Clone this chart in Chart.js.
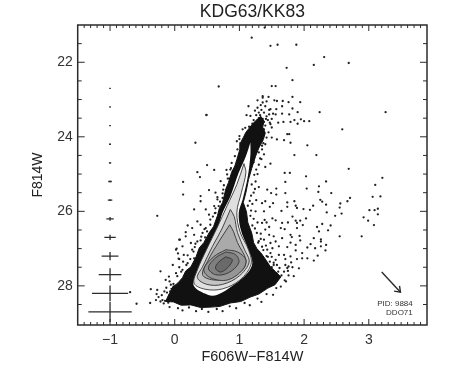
<!DOCTYPE html>
<html>
<head>
<meta charset="utf-8">
<title>KDG63/KK83</title>
<script src="https://cdn.jsdelivr.net/npm/chart.js@4"></script>
<style>
  html, body { margin: 0; padding: 0; background: #fff; }
  canvas { display: block; filter: blur(0.45px); }
</style>
</head>
<body>
<canvas id="cmd" width="450" height="375"></canvas>
<script>
// Axis ticks
const xMajor = [-1, 0, 1, 2, 3];
const yMajor = [22, 24, 26, 28];
const xMinor = [-1.4,-1.3,-1.2,-1.1,-0.9,-0.8,-0.7,-0.6,-0.5,-0.4,-0.3,-0.2,-0.1,0.1,0.2,0.3,0.4,0.5,0.6,0.7,0.8,0.9,1.1,1.2,1.3,1.4,1.5,1.6,1.7,1.8,1.9,2.1,2.2,2.3,2.4,2.5,2.6,2.7,2.8,2.9,3.1,3.2,3.3,3.4,3.5,3.6,3.7,3.8];
const yMinor = [21.5, 22.5, 23, 23.5, 24.5, 25, 25.5, 26.5, 27, 27.5, 28.5];

// Error bars at colour -1
const errMag = [22.7, 23.2, 23.7, 24.2, 24.7, 25.2, 25.7, 26.2, 26.7, 27.2, 27.7, 28.2, 28.7];
const errColour = [0.01, 0.01, 0.012, 0.015, 0.018, 0.028, 0.035, 0.057, 0.088, 0.13, 0.175, 0.28, 0.335];
const errMagSize = [0.01, 0.01, 0.012, 0.015, 0.018, 0.02, 0.025, 0.05, 0.07, 0.11, 0.17, 0.21, 0.27];

// Saturated black part of the diagram
const blackRegion = [[1.33,23.45],[1.22,23.62],[1.10,23.88],[1.06,24.02],[1.02,24.15],[1.01,24.32],[0.96,24.61],[0.93,24.78],[0.88,24.95],[0.83,25.23],[0.79,25.40],[0.74,25.76],[0.69,25.92],[0.66,26.12],[0.60,26.41],[0.53,26.58],[0.45,26.84],[0.38,26.98],[0.33,27.22],[0.25,27.49],[0.17,27.60],[0.12,27.78],[0.05,27.92],[-0.03,28.03],[-0.11,28.30],[-0.14,28.42],[-0.02,28.43],[0.10,28.52],[0.25,28.51],[0.40,28.58],[0.56,28.57],[0.70,28.55],[0.86,28.46],[1.02,28.42],[1.17,28.30],[1.30,28.22],[1.44,28.06],[1.55,27.97],[1.64,27.76],[1.56,27.62],[1.48,27.49],[1.40,27.28],[1.33,27.11],[1.27,27.00],[1.22,26.84],[1.19,26.58],[1.13,26.30],[1.11,26.02],[1.06,25.76],[1.10,25.50],[1.14,25.15],[1.19,24.85],[1.25,24.52],[1.30,24.30],[1.37,24.07],[1.40,23.90],[1.36,23.74],[1.38,23.58],[1.33,23.45]];

// Density contours, outermost first
const contourWhite = [[1.17,24.15],[1.10,24.52],[0.99,24.96],[0.86,25.60],[0.74,26.03],[0.66,26.49],[0.56,26.95],[0.40,27.57],[0.29,27.98],[0.51,28.24],[0.66,28.24],[0.91,27.98],[1.13,27.65],[1.20,27.38],[1.14,27.03],[1.02,26.49],[0.99,26.03],[1.05,25.68],[1.13,25.06],[1.17,24.48],[1.17,24.15]];
const contour1 = [[1.07,24.72],[0.96,25.28],[0.81,25.85],[0.66,26.42],[0.49,27.03],[0.35,27.57],[0.30,27.93],[0.47,28.09],[0.74,28.08],[1.01,27.84],[1.18,27.42],[1.14,27.03],[1.01,26.55],[0.96,26.03],[1.03,25.50],[1.10,24.96],[1.07,24.72]];
const contour2 = [[0.86,25.95],[0.73,26.47],[0.58,26.95],[0.43,27.49],[0.35,27.78],[0.50,27.96],[0.74,27.96],[1.00,27.73],[1.15,27.36],[1.08,27.03],[0.97,26.57],[0.92,26.14],[0.86,25.95]];
const contour3 = [[0.85,26.36],[0.68,26.82],[0.52,27.30],[0.43,27.70],[0.59,27.84],[0.82,27.79],[1.05,27.57],[1.10,27.30],[0.97,26.84],[0.91,26.55],[0.85,26.36]];
const contour4 = [[0.79,27.03],[0.60,27.22],[0.45,27.57],[0.56,27.79],[0.82,27.84],[1.05,27.57],[1.10,27.30],[0.97,27.09],[0.79,27.03]];
const contour5 = [[0.79,27.09],[0.63,27.25],[0.52,27.52],[0.63,27.70],[0.83,27.65],[0.99,27.38],[0.94,27.16],[0.79,27.09]];
const contour6 = [[0.79,27.22],[0.68,27.36],[0.63,27.52],[0.71,27.63],[0.83,27.49],[0.89,27.30],[0.79,27.22]];
const contourFills = ["#ffffff", "#e0e0e0", "#c4c4c4", "#aaaaaa", "#969696", "#808080", "#6a6a6a"];

// Individual stars
const starsTop = [[1.19,21.34],[1.48,21.56],[1.59,21.53],[1.88,21.53],[2.31,21.86],[2.15,22.07],[2.69,22.02],[1.73,22.15],[1.82,22.48],[1.50,22.64],[1.56,22.64],[0.68,22.65],[0.49,23.42],[1.39,21.07],[3.26,23.34],[2.24,23.34],[1.36,22.91],[1.36,22.95],[1.45,22.93],[1.82,22.93],[1.94,23.07],[1.28,23.02],[1.54,23.02],[1.58,23.04],[1.67,23.04],[1.76,23.07],[1.14,23.18],[1.33,23.15],[1.40,23.18],[1.66,23.18],[1.48,23.26],[1.57,23.26],[1.82,23.24],[1.90,23.34],[1.11,23.42],[1.17,23.44],[1.32,23.42],[1.46,23.40],[1.56,23.40],[1.66,23.38],[1.77,23.40],[1.85,23.55],[1.95,23.53],[2.08,23.58],[2.00,23.58],[1.28,23.55],[1.38,23.60],[1.48,23.66],[1.60,23.62],[1.68,23.60],[1.90,23.65],[1.79,23.60],[1.05,23.80],[1.15,23.73],[1.38,23.80],[1.50,23.75],[1.74,23.93],[1.77,23.93],[1.50,24.02],[2.59,23.80],[1.00,23.98],[1.28,23.60],[1.30,23.50],[1.32,23.60],[1.25,23.70],[1.22,23.80],[1.30,23.72],[1.34,23.78],[1.20,23.65],[1.36,23.52],[1.40,23.70],[1.20,23.90],[1.16,23.95],[1.22,23.55],[1.26,23.42],[1.30,23.35],[1.24,23.30],[1.34,23.28],[1.28,23.22],[1.42,23.45],[1.38,23.35],[1.44,23.55],[1.50,23.52],[1.52,23.38],[1.46,23.28],[1.36,23.08],[1.42,23.05]];
const starsRight = [[2.05,24.23],[1.85,24.49],[2.19,24.49],[1.48,24.72],[1.40,24.81],[1.70,24.97],[1.78,24.97],[2.69,24.86],[2.03,25.06],[1.71,25.21],[2.34,25.20],[2.23,25.33],[2.04,25.39],[3.21,25.10],[3.10,25.29],[1.57,25.39],[1.43,25.42],[1.49,25.51],[1.57,25.55],[1.71,25.51],[2.22,25.48],[2.42,25.51],[3.18,25.60],[3.06,25.61],[2.71,25.64],[2.67,25.73],[2.25,25.69],[2.28,25.74],[2.34,25.82],[2.56,25.79],[2.55,25.90],[1.74,25.76],[1.85,25.73],[1.87,25.85],[1.89,25.91],[1.52,25.78],[1.40,25.73],[1.35,25.78],[1.47,25.88],[1.74,25.88],[1.99,25.94],[2.09,25.96],[2.14,25.85],[1.65,25.99],[1.38,26.00],[2.35,26.03],[2.48,26.12],[2.58,26.06],[3.01,25.97],[3.09,25.97],[3.14,25.93],[3.14,26.08],[2.92,26.16],[2.99,26.25],[3.08,26.37],[1.51,26.19],[1.39,26.23],[1.42,26.30],[1.56,26.24],[1.82,26.14],[1.87,26.25],[1.94,26.25],[2.03,26.19],[1.89,26.31],[1.98,26.37],[1.66,26.31],[1.75,26.30],[1.64,26.45],[1.70,26.48],[1.89,26.45],[2.28,26.34],[2.20,26.42],[2.41,26.38],[2.37,26.51],[2.23,26.54],[2.55,26.67],[2.89,26.67],[1.79,26.63],[1.81,26.69],[1.93,26.66],[2.15,26.72],[2.26,26.75],[2.26,26.81],[2.34,26.90],[2.10,26.88],[2.05,26.97],[2.17,26.99],[2.26,26.94],[2.33,27.05],[1.94,26.78],[1.87,26.90],[1.79,26.84],[1.74,26.96],[1.66,26.72],[1.53,26.67],[1.46,26.63],[1.56,26.81],[1.48,26.85],[1.61,26.94],[1.51,26.99],[1.87,27.05],[1.69,27.17],[2.21,27.19],[1.97,27.12],[2.05,27.26],[2.15,27.32],[1.97,27.26],[1.89,27.28],[1.79,27.21],[1.71,27.28],[1.61,27.17],[1.80,27.37],[1.71,27.44],[1.92,27.53],[1.76,27.48],[1.48,27.12],[1.56,27.30],[1.43,27.03],[1.38,26.76],[1.40,26.49],[1.46,26.42],[1.35,26.31],[1.53,27.44],[1.35,24.10],[1.37,24.17],[1.40,24.20],[1.35,24.34],[1.38,24.47],[1.58,24.07],[1.69,24.09],[1.79,24.16],[1.34,24.60],[1.30,24.75],[1.28,25.00],[1.25,25.20],[1.30,25.35],[1.22,25.50],[1.26,25.70],[1.20,25.80],[1.25,26.00],[1.22,26.20],[1.28,26.30],[1.33,26.60],[1.30,26.80],[1.35,26.95],[1.42,27.20],[1.47,27.35],[1.50,27.50],[1.60,27.62],[1.65,27.72],[1.70,27.85],[1.75,27.60],[1.82,27.50]];
const starsLeft = [[0.49,23.41],[0.32,24.16],[0.50,24.76],[0.61,24.89],[0.35,24.95],[0.39,25.08],[0.13,25.21],[0.13,25.55],[0.53,25.43],[0.71,25.19],[0.80,24.89],[0.86,24.88],[0.81,25.01],[0.63,25.50],[0.74,25.64],[0.66,25.68],[0.40,25.59],[0.40,25.73],[0.48,25.95],[0.30,25.95],[0.61,25.86],[0.53,26.09],[0.68,25.86],[0.63,26.04],[-0.27,26.12],[0.35,26.27],[0.20,26.38],[0.17,26.56],[0.27,26.45],[0.40,26.36],[0.48,26.45],[0.07,26.76],[0.17,26.67],[0.30,26.63],[0.43,26.58],[0.50,26.54],[0.02,27.03],[0.12,26.94],[0.25,26.85],[0.35,26.81],[0.14,27.17],[0.07,27.28],[0.27,27.03],[0.20,27.39],[-0.22,27.61],[-0.09,27.75],[0.02,27.66],[0.12,27.57],[0.30,27.26],[0.40,26.99],[-0.06,27.97],[-0.27,28.11],[-0.16,28.15],[0.04,28.02],[-0.29,28.38],[-0.19,28.38],[0.14,27.84],[0.22,27.75],[0.35,27.48],[-0.59,28.48],[-0.69,28.17],[-0.37,28.09],[-0.38,28.46],[0.03,27.00],[-0.03,27.44],[-0.14,27.84],[0.06,27.27],[0.05,27.13],[0.08,26.76]];
const starsEdge = [[-0.20,28.25],[-0.25,28.30],[-0.15,28.40],[-0.10,28.45],[-0.22,28.42],[-0.28,28.22],[-0.12,28.18],[-0.05,28.08],[-0.02,28.02],[-0.08,28.25],[-0.17,28.47],[-0.08,28.57],[0.05,28.60],[0.12,28.66],[0.22,28.58],[0.33,28.68],[0.42,28.62],[0.52,28.70],[0.65,28.62],[0.74,28.68],[0.85,28.55],[0.95,28.60],[1.08,28.46],[1.16,28.52],[1.28,28.34],[1.34,28.43],[1.42,28.22],[1.52,28.24],[1.57,28.06],[1.64,28.02],[1.72,27.88],[1.76,27.72],[0.88,24.70],[0.90,24.92],[0.84,25.12],[0.76,25.30],[0.74,25.52],[0.66,25.62],[0.63,25.92],[0.59,26.14],[0.55,26.22],[0.46,26.48],[0.41,26.68],[0.32,26.87],[0.29,27.08],[0.20,27.18],[0.18,27.44],[0.07,27.50],[0.04,27.74],[-0.08,27.88],[1.22,24.68],[1.23,25.02],[1.19,25.28],[1.18,25.58],[1.13,25.85],[1.17,26.12],[1.20,26.38],[1.27,26.58],[1.29,26.84],[1.37,27.04],[1.44,27.22],[1.53,27.38],[1.62,27.52],[1.69,27.62],[0.10,27.62],[-0.02,27.95],[0.13,27.35],[0.24,27.28],[0.31,26.96],[0.40,26.78],[0.47,26.70],[0.55,26.36],[0.62,26.05],[0.70,25.74],[0.75,25.42],[0.82,25.12],[0.87,24.84],[0.93,24.52],[0.97,24.34],[0.96,24.12],[1.00,24.06],[1.09,23.76],[0.21,27.68],[0.11,27.86],[-0.13,28.05],[-0.07,28.15],[1.30,24.42],[1.35,24.24],[1.32,24.58],[1.42,24.02],[1.45,23.88],[1.47,23.62],[1.41,23.52],[1.26,24.88],[1.24,25.40],[1.16,25.72],[1.18,25.98],[1.24,26.46],[1.33,26.74],[1.41,26.92],[1.50,27.22],[1.58,27.44],[1.74,27.52],[1.84,27.74]];

// Reddening arrow and its caption
const arrowShaft = [[3.20,27.63],[3.49,28.17]];
const arrowHead = [[3.39,28.14],[3.49,28.17],[3.475,28.00]];
const captionLines = ["PID: 9884", "DDO71"];
const captionMags = [28.48, 28.73];
const captionColour = 3.68;

const toPoints = (pairs) => pairs.map(([x, y]) => ({ x, y }));
const inkColor = "#2b2b2b";

const datasets = [];

// Stars go under the black region, contours on top of it
const allStars = [...starsTop, ...starsRight, ...starsLeft, ...starsEdge];
datasets.push({
  data: toPoints(allStars),
  pointRadius: 1.15,
  pointBackgroundColor: "#222",
  pointBorderWidth: 0,
  order: 20,
});
datasets.push({
  data: toPoints(blackRegion),
  showLine: true,
  fill: "shape",
  backgroundColor: "#111",
  borderColor: "#111",
  borderWidth: 1,
  pointRadius: 0,
  order: 19,
});
[contourWhite, contour1, contour2, contour3, contour4, contour5, contour6].forEach((c, i) => {
  datasets.push({
    data: toPoints(c),
    showLine: true,
    fill: "shape",
    backgroundColor: contourFills[i],
    borderColor: i === 0 ? "#ffffff" : "#333",
    borderWidth: i === 0 ? 0 : 0.9,
    pointRadius: 0,
    tension: 0.35,
    order: 18 - i,
  });
});

// Error bars
errMag.forEach((mag, i) => {
  const horizontal = [[-1 - errColour[i], mag], [-1 + errColour[i], mag]];
  const vertical = [[-1, mag - errMagSize[i]], [-1, mag + errMagSize[i]]];
  [horizontal, vertical].forEach((seg) => {
    datasets.push({
      data: toPoints(seg),
      showLine: true,
      borderColor: inkColor,
      borderWidth: 1.3,
      pointRadius: 0,
      order: 5,
    });
  });
});

[arrowShaft, arrowHead].forEach((seg) => {
  datasets.push({
    data: toPoints(seg),
    showLine: true,
    borderColor: inkColor,
    borderWidth: 1.4,
    pointRadius: 0,
    order: 5,
  });
});

// Caixa do gráfico, marcas para dentro e legenda pequena
const framePlugin = {
  id: "frame",
  afterDatasetsDraw(chart) {
    const { ctx, chartArea: a, scales } = chart;
    const { x, y } = scales;
    ctx.save();
    ctx.strokeStyle = inkColor;
    ctx.lineWidth = 1.5;
    ctx.strokeRect(a.left, a.top, a.right - a.left, a.bottom - a.top);
    ctx.lineWidth = 1;
    ctx.beginPath();
    const xTick = (v, len) => {
      const p = x.getPixelForValue(v);
      ctx.moveTo(p, a.bottom); ctx.lineTo(p, a.bottom - len);
      ctx.moveTo(p, a.top); ctx.lineTo(p, a.top + len);
    };
    const yTick = (v, len) => {
      const p = y.getPixelForValue(v);
      ctx.moveTo(a.left, p); ctx.lineTo(a.left + len, p);
      ctx.moveTo(a.right, p); ctx.lineTo(a.right - len, p);
    };
    xMajor.forEach((v) => xTick(v, 6));
    xMinor.forEach((v) => xTick(v, 3));
    yMajor.forEach((v) => yTick(v, 7));
    yMinor.forEach((v) => yTick(v, 4));
    ctx.stroke();

    ctx.fillStyle = "#333";
    ctx.font = '8px "Liberation Sans"';
    ctx.textAlign = "right";
    ctx.textBaseline = "middle";
    captionLines.forEach((line, i) => {
      ctx.fillText(line, x.getPixelForValue(captionColour), y.getPixelForValue(captionMags[i]));
    });
    ctx.restore();
  },
};

const axisFont = { family: '"Liberation Sans"', size: 14 };

new Chart(document.getElementById("cmd").getContext("2d"), {
  type: "scatter",
  data: { datasets },
  plugins: [framePlugin],
  options: {
    responsive: false,
    animation: false,
    layout: { padding: { left: 0, right: 23, top: 0, bottom: 0 } },
    plugins: {
      legend: { display: false },
      tooltip: { enabled: false },
      title: {
        display: true,
        text: "KDG63/KK83",
        color: "#222",
        fullSize: false,
        font: { family: '"Liberation Sans"', size: 17.5, weight: "normal", lineHeight: 1.2 },
        padding: { top: 2, bottom: 2 },
      },
    },
    scales: {
      x: {
        type: "linear",
        min: -1.5,
        max: 3.9,
        grid: { display: false, drawTicks: false },
        border: { display: false },
        afterBuildTicks: (s) => { s.ticks = xMajor.map((value) => ({ value })); },
        afterFit: (s) => { s.height = 50; },
        ticks: {
          color: "#333",
          font: axisFont,
          padding: 7,
          maxRotation: 0,
          callback: (v) => String(v).replace("-", "\u2212"),
        },
        title: {
          display: true,
          text: "F606W\u2212F814W",
          color: "#222",
          font: { family: '"Liberation Sans"', size: 14.5 },
          padding: { top: 0, bottom: 9 },
        },
      },
      y: {
        type: "linear",
        reverse: true,
        min: 21,
        max: 29.05,
        grid: { display: false, drawTicks: false },
        border: { display: false },
        afterBuildTicks: (s) => { s.ticks = yMajor.map((value) => ({ value })); },
        afterFit: (s) => { s.width = 77.7; },
        ticks: { color: "#333", font: axisFont, padding: 5 },
        title: {
          display: true,
          text: "F814W",
          color: "#222",
          font: axisFont,
          padding: { top: 30, bottom: 0 },
        },
      },
    },
  },
});
</script>
</body>
</html>
